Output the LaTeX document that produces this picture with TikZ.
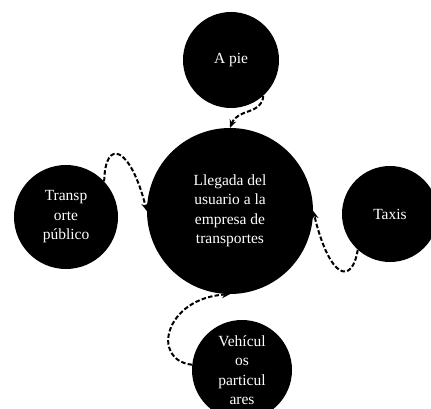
\documentclass[tikz,border=0pt]{standalone}
\usepackage{fontspec}
\setmainfont{Liberation Serif}
\usetikzlibrary{arrows.meta}
\begin{document}
\begin{tikzpicture}[x=1pt,y=-1pt,
  bubble/.style={circle,fill=black,draw=none,inner sep=0pt,text=white,
    align=center,font=\fontsize{15.5}{19.5}\selectfont},
  link/.style={dashed,dash pattern=on 4.5pt off 2.2pt,line width=2pt,
    -{Stealth[length=8pt,width=7pt]}}]
\useasboundingbox (0,0) rectangle (431,409);
\clip (0,0) rectangle (431,409);
% central event and the four ways of arriving
\node[bubble,minimum size=166pt] (llegada) at (230,211)
  {Llegada del\\usuario a la\\empresa de\\transportes};
\node[bubble,minimum size=96pt] (pie) at (231,60) {A pie};
\node[bubble,minimum size=104pt] (publico) at (66,217) {Transp\\orte\\público};
\node[bubble,minimum size=96pt] (taxis) at (390,214) {Taxis};
\node[bubble,minimum size=100pt] (veh) at (242,370) {Vehícul\\os\\particul\\ares};
% dashed connectors into the central circle
\draw[link] (pie.-48) .. controls (262,115) and (238,108) .. (llegada.north);
\draw[link] (publico.43) .. controls (105,138) and (130,145) .. (llegada.west);
\draw[link] (taxis.228) .. controls (352,285) and (330,280) .. (llegada.east);
\draw[link] (veh.174) .. controls (150,360) and (165,298) .. (llegada.south);
\end{tikzpicture}
\end{document}
